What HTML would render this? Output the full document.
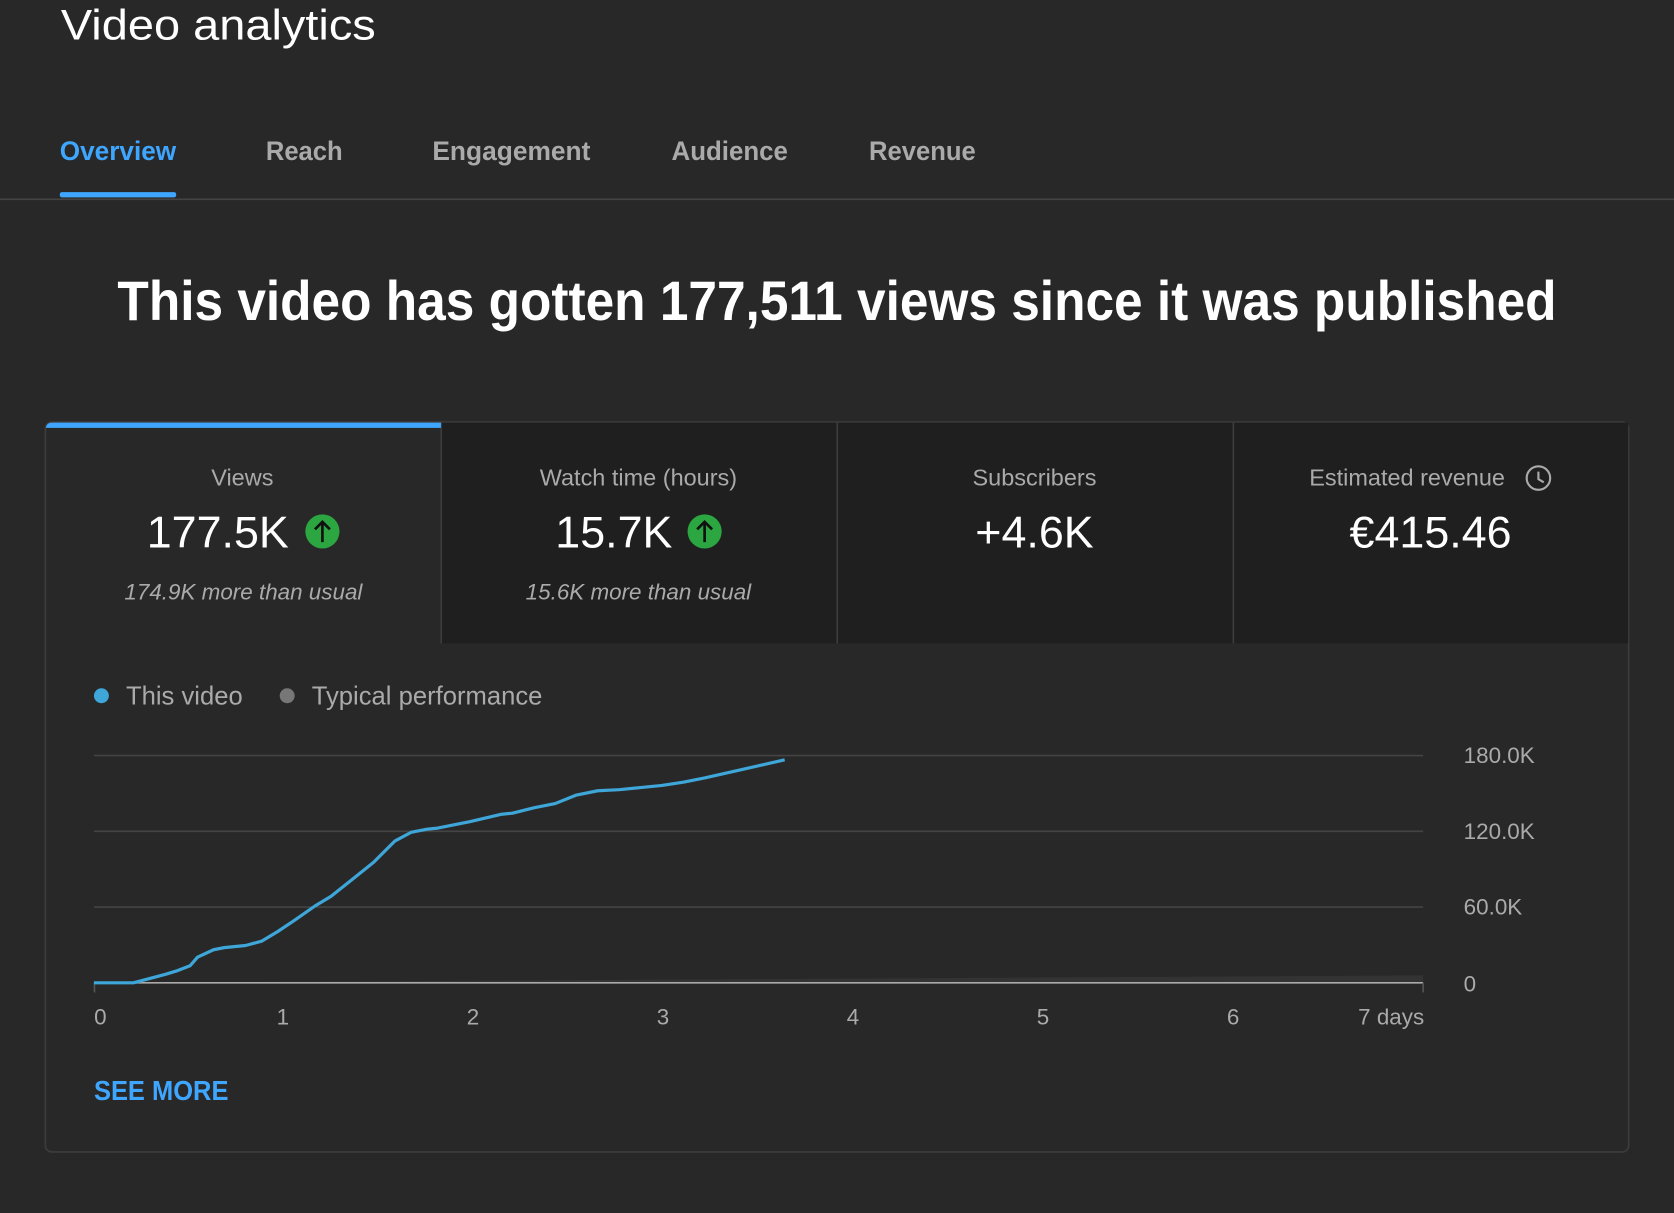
<!DOCTYPE html>
<html><head><style>html,body{margin:0;padding:0;background:#282828;overflow:hidden}</style></head>
<body>
<svg width="1674" height="1208" viewBox="0 0 1568 1132" preserveAspectRatio="none" xmlns="http://www.w3.org/2000/svg" font-family="Liberation Sans, sans-serif">
<rect width="1568" height="1132" fill="#282828"/>
<text x="57" y="37" font-size="40" fill="#fff" textLength="295" lengthAdjust="spacingAndGlyphs">Video analytics</text>
<g font-size="25" fill="#aaa" font-weight="bold" stroke="none">
<text x="56" y="150" fill="#3ea6ff" textLength="109" lengthAdjust="spacingAndGlyphs">Overview</text>
<text x="249" y="150" textLength="72" lengthAdjust="spacingAndGlyphs">Reach</text>
<text x="405" y="150" textLength="148" lengthAdjust="spacingAndGlyphs">Engagement</text>
<text x="629" y="150" textLength="109" lengthAdjust="spacingAndGlyphs">Audience</text>
<text x="814" y="150" textLength="100" lengthAdjust="spacingAndGlyphs">Revenue</text>
</g>
<rect x="56" y="180" width="109" height="5" rx="2" fill="#3ea6ff"/>
<rect x="0" y="186" width="1568" height="1.5" fill="#444"/>
<text x="784" y="300" font-size="52" font-weight="bold" fill="#fff" text-anchor="middle" textLength="1348" lengthAdjust="spacingAndGlyphs">This video has gotten 177,511 views since it was published</text>
<rect x="42.5" y="395.5" width="1483" height="684" rx="6" fill="#282828" stroke="#3d3d3d" stroke-width="1.5"/>
<rect x="413" y="396" width="1112" height="207" fill="#1f1f1f"/>
<rect x="412.5" y="396" width="1.5" height="207" fill="#3d3d3d"/>
<rect x="783.5" y="396" width="1.5" height="207" fill="#3d3d3d"/>
<rect x="1154.5" y="396" width="1.5" height="207" fill="#3d3d3d"/>
<path d="M43 402 Q43 396 49 396 L413 396 L413 401 L43 401 Z" fill="#3ea6ff"/>
<g font-size="22" fill="#aaa" text-anchor="middle">
<text x="227" y="455">Views</text>
<text x="598" y="455">Watch time (hours)</text>
<text x="969" y="455">Subscribers</text>
<text x="1318" y="455">Estimated revenue</text>
</g>
<circle cx="1441" cy="448" r="11" fill="none" stroke="#aaa" stroke-width="2"/>
<path d="M1441 442 V449 L1446 452" fill="none" stroke="#aaa" stroke-width="2"/>
<g font-size="42" fill="#fff" text-anchor="middle">
<text x="204" y="513">177.5K</text>
<text x="575" y="513">15.7K</text>
<text x="969" y="513">+4.6K</text>
<text x="1340" y="513">€415.46</text>
</g>
<g>
<circle cx="302" cy="498" r="16" fill="#2ba640"/>
<path d="M302 508 V489 M295 496 L302 489 L309 496" stroke="#111" stroke-width="2.5" fill="none"/>
<circle cx="660" cy="498" r="16" fill="#2ba640"/>
<path d="M660 508 V489 M653 496 L660 489 L667 496" stroke="#111" stroke-width="2.5" fill="none"/>
</g>
<g font-size="21" fill="#aaa" font-style="italic" text-anchor="middle">
<text x="228" y="562">174.9K more than usual</text>
<text x="598" y="562">15.6K more than usual</text>
</g>
<circle cx="95" cy="652" r="7" fill="#3ea6d8"/>
<text x="118" y="660" font-size="24" fill="#aaa">This video</text>
<circle cx="269" cy="652" r="7" fill="#777"/>
<text x="292" y="660" font-size="24" fill="#aaa">Typical performance</text>
<g stroke="#444" stroke-width="1.5">
<line x1="88" y1="708" x2="1333" y2="708"/>
<line x1="88" y1="779" x2="1333" y2="779"/>
<line x1="88" y1="850" x2="1333" y2="850"/>
</g>
<path d="M88 921 L1333 914 L1333 921 Z" fill="#333"/>
<line x1="88" y1="921" x2="1333" y2="921" stroke="#aaa" stroke-width="1.5"/>
<line x1="88.5" y1="921" x2="88.5" y2="930" stroke="#555" stroke-width="1.5"/>
<line x1="1333" y1="921" x2="1333" y2="930" stroke="#555" stroke-width="1.5"/>
<g font-size="21" fill="#aaa">
<text x="1371" y="715">180.0K</text>
<text x="1371" y="786">120.0K</text>
<text x="1371" y="857">60.0K</text>
<text x="1371" y="929">0</text>
</g>
<g font-size="21" fill="#aaa" text-anchor="middle">
<text x="94" y="960">0</text>
<text x="265" y="960">1</text>
<text x="443" y="960">2</text>
<text x="621" y="960">3</text>
<text x="799" y="960">4</text>
<text x="977" y="960">5</text>
<text x="1155" y="960">6</text>
<text x="1334" y="960" text-anchor="end">7 days</text>
</g>
<polyline fill="none" stroke="#3ea6d8" stroke-width="3" stroke-linejoin="round" points="88,921 125,921 155,913 165,910 178,905 185,897 200,890 210,888 230,886 245,882 260,873 275,863 295,849 310,840 330,824 350,808 370,788 385,780 400,777 410,776 440,770 470,763 480,762 500,757 520,753 540,745 560,741 580,740 600,738 620,736 640,733 660,729 700,720 735,712"/>
<text x="88" y="1031" font-size="26" font-weight="bold" fill="#3ea6ff" textLength="126" lengthAdjust="spacingAndGlyphs">SEE MORE</text>
</svg>
</body></html>
